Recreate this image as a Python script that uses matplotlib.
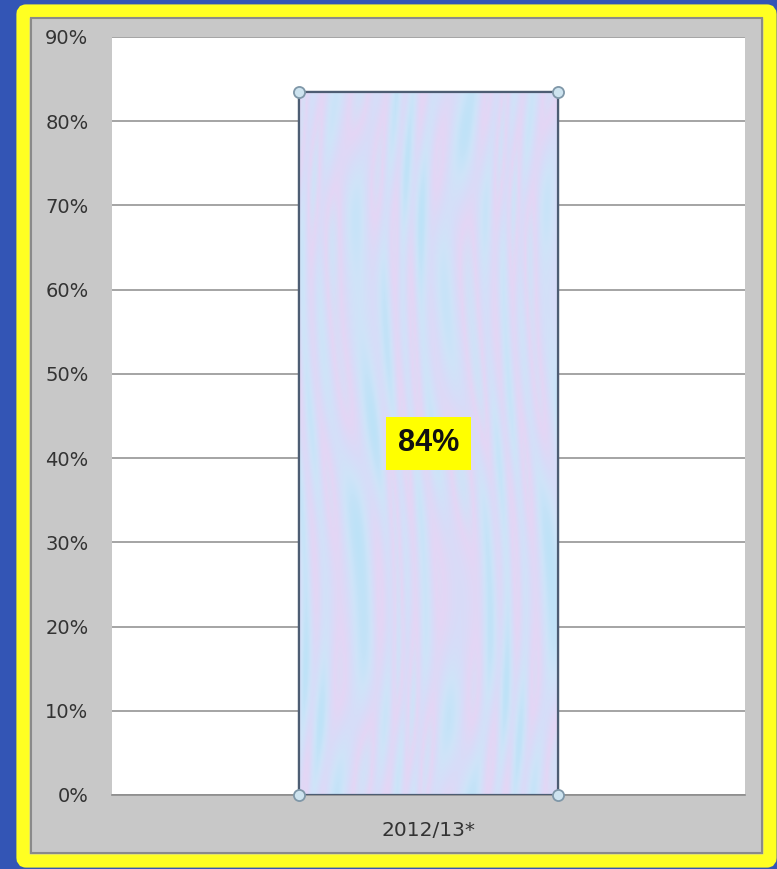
import matplotlib
matplotlib.use("Agg")
import matplotlib.pyplot as plt
from matplotlib.patches import FancyBboxPatch, Rectangle
from matplotlib.ticker import MultipleLocator, PercentFormatter
import numpy as np

categories = ["2012/13*"]
values = [0.835]
data_labels = ["84%"]

W, H = 777, 869
fig = plt.figure(figsize=(W / 100, H / 100), dpi=100)
fig.patch.set_facecolor("#3355b5")

def fx(px):
    return px / W

def fy(py):
    return 1 - py / H

# gray chart area with yellow border
border = FancyBboxPatch((fx(23), fy(861)), fx(770) - fx(23), fy(11) - fy(861),
                        boxstyle="round,pad=0,rounding_size=0.004",
                        transform=fig.transFigure, facecolor="#c8c8c8",
                        edgecolor="#ffff22", linewidth=9.5, zorder=-2)
fig.patches.append(border)
inner = Rectangle((fx(31), fy(853)), fx(762) - fx(31), fy(18) - fy(853),
                  transform=fig.transFigure, facecolor="none",
                  edgecolor="#8a8a8a", linewidth=1.5, zorder=-1)
fig.patches.append(inner)

ax = fig.add_axes([fx(112), fy(795), fx(745) - fx(112), fy(37) - fy(795)])
ax.set_zorder(2)
ax.set_facecolor("white")
x = np.arange(len(categories))
bars = ax.bar(x, values, width=0.41, color="#d2e0f6", edgecolor="#4d5d73",
              linewidth=1.6, zorder=3)

# deterministic streaky texture inside bar (style only)
for b in bars:
    x0, y0 = b.get_x(), b.get_y()
    w, h = b.get_width(), b.get_height()
    yy, xx = np.mgrid[0:300, 0:120]
    tex = (np.sin(xx * 0.55 + np.sin(yy * 0.021) * 4 + np.sin(xx * 0.13) * 2) * 0.45 +
           np.sin(xx * 0.21 - yy * 0.012 + np.cos(yy * 0.03) * 1.5) * 0.35 +
           np.sin(yy * 0.017 + xx * 0.07) * 0.2)
    cmap = matplotlib.colors.LinearSegmentedColormap.from_list(
        "tex", ["#bde2f7", "#cfe4f9", "#d8dcf8", "#e4d6f5", "#d0e2f8"])
    im = ax.imshow(tex, extent=(x0, x0 + w, y0, y0 + h), aspect="auto",
                   cmap=cmap, zorder=3.5, interpolation="bilinear")
    im.set_clip_path(b)
    ax.add_patch(Rectangle((x0, y0), w, h, facecolor="none", edgecolor="#4d5d73",
                           linewidth=1.6, zorder=4))
    corners = [(x0, y0), (x0 + w, y0), (x0, y0 + h), (x0 + w, y0 + h)]
    for cx, cy in corners:
        ax.plot(cx, cy, "o", ms=8, mfc="#cde3ef", mec="#7f97a8", mew=1.3,
                zorder=5, clip_on=False)
    ax.text(b.get_x() + w / 2, h / 2, data_labels[0], ha="center", va="center",
            fontsize=22, fontweight="bold", color="#111111", zorder=6,
            family="Liberation Sans",
            bbox=dict(boxstyle="square,pad=0.38", facecolor="#ffff00",
                      edgecolor="none"))

ax.set_xlim(-0.5, 0.5)
ax.set_ylim(0, 0.9)
ax.yaxis.set_major_locator(MultipleLocator(0.1))
ax.yaxis.set_major_formatter(PercentFormatter(1.0, decimals=0))
ax.set_xticks(x)
ax.set_xticklabels(categories)
ax.grid(axis="y", color="#8c8c8c", linewidth=1.1, zorder=1)
ax.set_axisbelow(True)
for s in ["left", "right", "top"]:
    ax.spines[s].set_visible(False)
ax.spines["bottom"].set_color("#8c8c8c")
ax.spines["bottom"].set_linewidth(1.2)
ax.tick_params(axis="y", length=0, pad=17, labelsize=14, labelcolor="#333333")
ax.tick_params(axis="x", length=0, pad=19, labelsize=14.5, labelcolor="#333333")

fig.savefig("out.png", dpi=100, facecolor=fig.get_facecolor())
